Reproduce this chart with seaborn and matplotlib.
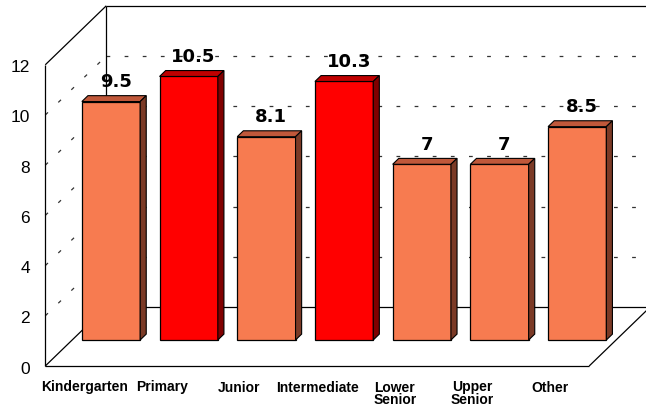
import matplotlib
matplotlib.use("Agg")
import matplotlib.pyplot as plt
import seaborn as sns

# Chart data
categories = ["Kindergarten", "Primary", "Junior", "Intermediate",
              "Lower\nSenior", "Upper\nSenior", "Other"]
values = [9.5, 10.5, 8.1, 10.3, 7, 7, 8.5]
highlighted = ["Primary", "Intermediate"]
y_ticks = [0, 2, 4, 6, 8, 10, 12]

# Face colours for the pseudo-3D bars
FRONT = {"base": "#F77B50", "hi": "#FF0000"}
TOP = {"base": "#C0583A", "hi": "#C00000"}
SIDE = {"base": "#7B3A26", "hi": "#800000"}

sns.set_theme(style="white")

W, H = 646, 409
fig = plt.figure(figsize=(W / 100, H / 100), dpi=100)
ax = fig.add_axes([0, 0, 1, 1])

kinds = ["hi" if c in highlighted else "base" for c in categories]
palette = {c: FRONT[k] for c, k in zip(categories, kinds)}

sns.barplot(x=categories, y=values, hue=categories, palette=palette,
            order=categories, hue_order=categories, width=0.75,
            edgecolor="black", linewidth=0.9, legend=False, ax=ax,
            saturation=1, zorder=3)

# Pixel scale of the data axes (px per category, px per value unit)
SX, SY = 77.7, 25.1
x_lo = -111 / SX
x_hi = (W - 111) / SX
y_hi = 340 / SY
y_lo = (340 - H) / SY
ax.set_xlim(x_lo, x_hi)
ax.set_ylim(y_lo, y_hi)
ax.set_axis_off()

# Depth projection: t=0 front edge of the floor, t=1 back wall
DX, DY = 61 / SX, 59 / SY
T0 = 26 / 59          # plane of the bar front faces
TB = 0.1              # bar depth


def proj(x, v, t):
    return x + (t - T0) * DX, v + (t - T0) * DY


def seg(p, q, **kw):
    ax.plot([p[0], q[0]], [p[1], q[1]], **kw)


n = len(categories)
xl, xr = -0.5, n - 0.5
vmax = y_ticks[-1]
solid = dict(color="black", lw=0.9, zorder=1, solid_capstyle="butt")
dashed = dict(color="#333333", lw=0.9, zorder=0.5, linestyle=(0, (3, 11.5)))

# Gridlines on the left wall and the back wall
for v in y_ticks[1:-1]:
    seg(proj(xl, v, 0), proj(xl, v, 1), **dashed)
    seg(proj(xl, v, 1), proj(xr, v, 1), **dashed)

# Floor
seg(proj(xl, 0, 0), proj(xr, 0, 0), **solid)
seg(proj(xr, 0, 0), proj(xr, 0, 1), **solid)
seg(proj(xl, 0, 0), proj(xl, 0, 1), **solid)
seg(proj(xl, 0, 1), proj(xr, 0, 1), **solid)
# Left wall and back wall edges
seg(proj(xl, 0, 0), proj(xl, vmax, 0), **solid)
seg(proj(xl, vmax, 0), proj(xl, vmax, 1), **solid)
seg(proj(xl, 0, 1), proj(xl, vmax, 1), **solid)
seg(proj(xl, vmax, 1), proj(xr, vmax, 1), **solid)

# Top and side faces of each bar
ddx, ddy = TB * DX, TB * DY
for p, k in zip(ax.patches, kinds):
    x0, w, h = p.get_x(), p.get_width(), p.get_height()
    top = [(x0, h), (x0 + w, h), (x0 + w + ddx, h + ddy), (x0 + ddx, h + ddy)]
    side = [(x0 + w, 0), (x0 + w, h), (x0 + w + ddx, h + ddy), (x0 + w + ddx, ddy)]
    ax.fill(*zip(*top), facecolor=TOP[k], edgecolor="black", lw=0.8, zorder=3)
    ax.fill(*zip(*side), facecolor=SIDE[k], edgecolor="black", lw=0.8, zorder=3)

# Value labels above the bars
for i, v in enumerate(values):
    x, y = proj(i, v, T0 + 0.08)
    ax.text(x, v + 0.575, f"{v:g}", ha="center", va="baseline",
            fontsize=13, fontweight="bold", family="DejaVu Sans",
            color="black", zorder=5)

# Value axis labels on the front edge of the left wall
for v in y_ticks:
    _, y = proj(xl, v, 0)
    ax.text((30 - 111) / SX, y - 7.5 / SY, str(v), ha="right", va="baseline",
            fontsize=12.5, family="Liberation Sans", color="black")

# Category labels under the floor
for i, c in enumerate(categories):
    x, _ = proj(i, 0, 0)
    ax.text(x, (340 - 380.5) / SY, c, ha="center", va="top",
            multialignment="center", linespacing=0.88,
            fontsize=10, fontweight="bold", family="Liberation Sans",
            color="black")

fig.savefig("out.png", dpi=100, facecolor="white")
